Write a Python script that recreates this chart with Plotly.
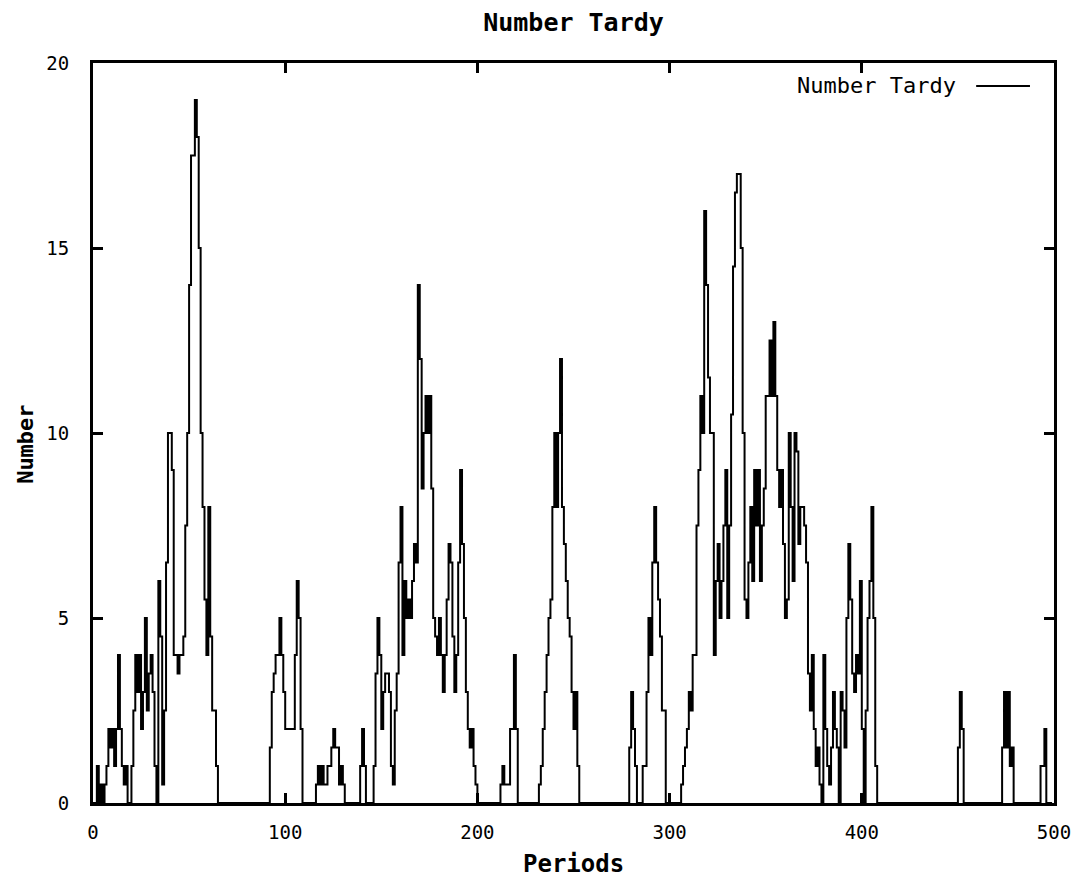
import plotly.graph_objects as go

# Number tardy per period (periods 0..499), in blocks of 50
tardy_000 = [0, 0, 1, 0, 0.5, 0, 0.5, 1, 2, 1.5,
             2, 1, 2, 4, 2, 1, 0.5, 1, 0, 0,
             1, 2.5, 4, 3, 4, 2, 3, 5, 2.5, 3.5,
             4, 3, 1, 0, 6, 4.5, 0.5, 2.5, 6.5, 10,
             10, 9, 4, 4, 3.5, 4, 4, 4.5, 7.5, 10]
tardy_050 = [14, 17.5, 17.5, 19, 18, 15, 10, 8, 5.5, 4,
             8, 4.5, 2.5, 2.5, 1, 0, 0, 0, 0, 0,
             0, 0, 0, 0, 0, 0, 0, 0, 0, 0,
             0, 0, 0, 0, 0, 0, 0, 0, 0, 0,
             0, 0, 1.5, 3, 3.5, 4, 4, 5, 4, 3]
tardy_100 = [2, 2, 2, 2, 2, 4, 6, 5, 2, 0,
             0, 0, 0, 0, 0, 0, 0.5, 1, 0.5, 1,
             0.5, 0.5, 1, 1, 1.5, 2, 1.5, 1.5, 0.5, 1,
             0.5, 0, 0, 0, 0, 0, 0, 0, 0, 1,
             2, 1, 0, 0, 0, 0, 1, 3.5, 5, 4]
tardy_150 = [2, 3, 3.5, 3.5, 3, 1, 0.5, 2.5, 3.5, 6.5,
             8, 4, 6, 5, 5.5, 5, 6, 7, 6.5, 14,
             12, 8.5, 10, 11, 10, 11, 8.5, 5, 4.5, 4,
             5, 4, 3, 4, 5.5, 7, 6.5, 4.5, 3, 4,
             6.5, 9, 7, 5, 3, 2, 1.5, 2, 1, 0.5]
tardy_200 = [0, 0, 0, 0, 0, 0, 0, 0, 0, 0,
             0, 0, 0.5, 1, 0.5, 0.5, 0.5, 2, 2, 4,
             2, 0, 0, 0, 0, 0, 0, 0, 0, 0,
             0, 0, 0.5, 1, 2, 3, 4, 5, 5.5, 8,
             10, 8, 10, 12, 8, 7, 6, 5, 4.5, 3]
tardy_250 = [2, 3, 1, 0, 0, 0, 0, 0, 0, 0,
             0, 0, 0, 0, 0, 0, 0, 0, 0, 0,
             0, 0, 0, 0, 0, 0, 0, 0, 0, 1.5,
             3, 2, 1, 0, 0, 0, 1, 1, 3, 5,
             4, 6.5, 8, 6.5, 5.5, 4.5, 2.5, 2.5, 0, 0]
tardy_300 = [0, 0, 0, 0, 0, 0, 0.5, 1, 1.5, 2,
             3, 2.5, 4, 4, 7.5, 9, 11, 10, 16, 14,
             11.5, 10, 10, 4, 6, 7, 5, 6, 7.5, 9,
             5, 7.5, 10.5, 14.5, 16.5, 17, 17, 15, 10, 5.5,
             5, 6.5, 8, 6, 9, 7.5, 9, 6, 7.5, 8.5]
tardy_350 = [11, 11, 12.5, 11, 13, 11, 9, 8, 9, 7,
             5, 5.5, 10, 8, 6, 10, 9.5, 7, 8, 8,
             7.5, 6.5, 3.5, 2.5, 4, 2, 1, 1.5, 0.5, 0,
             4, 2, 1, 0.5, 1.5, 3, 2, 1.5, 0, 3,
             2.5, 1.5, 5, 7, 5.5, 3.5, 3, 4, 3.5, 6]
tardy_400 = [2, 0, 2.5, 5, 6, 8, 5, 1, 0, 0,
             0, 0, 0, 0, 0, 0, 0, 0, 0, 0,
             0, 0, 0, 0, 0, 0, 0, 0, 0, 0,
             0, 0, 0, 0, 0, 0, 0, 0, 0, 0,
             0, 0, 0, 0, 0, 0, 0, 0, 0, 0]
tardy_450 = [1.5, 3, 2, 0, 0, 0, 0, 0, 0, 0,
             0, 0, 0, 0, 0, 0, 0, 0, 0, 0,
             0, 0, 0, 1.5, 3, 1.5, 3, 1, 1.5, 0,
             0, 0, 0, 0, 0, 0, 0, 0, 0, 0,
             0, 0, 0, 1, 1, 2, 0, 0, 0, 0]

number_tardy = (tardy_000 + tardy_050 + tardy_100 + tardy_150 + tardy_200 +
                tardy_250 + tardy_300 + tardy_350 + tardy_400 + tardy_450)
periods = list(range(len(number_tardy)))

x_ticks = [0, 100, 200, 300, 400, 500]
y_ticks = [0, 5, 10, 15, 20]

MONO = "DejaVu Sans Mono, Liberation Mono, monospace"

fig = go.Figure()
fig.add_trace(go.Scatter(
    x=periods, y=number_tardy, mode="lines", name="Number Tardy",
    line=dict(color="black", width=2, shape="hv"), showlegend=False,
))

axis_common = dict(
    showline=True, linecolor="black", linewidth=3, mirror="ticks",
    ticks="inside", ticklen=10, tickwidth=3, tickcolor="black",
    showgrid=False, zeroline=False,
    tickfont=dict(family=MONO, size=19, color="black"),
)
fig.update_xaxes(range=[0, 500], tickvals=x_ticks, ticklabelstandoff=10, **axis_common)
fig.update_yaxes(range=[0, 20], tickvals=y_ticks, ticklabelstandoff=17, **axis_common)

fig.update_layout(
    width=1076, height=873,
    margin=dict(l=85, r=30, t=55, b=78),
    paper_bgcolor="white", plot_bgcolor="white",
    title=dict(text="<b>Number Tardy</b>", x=0.5, xref="paper", y=0.984, yref="container",
               yanchor="middle", font=dict(family=MONO, size=25, color="black")),
    annotations=[
        dict(text="<b>Periods</b>", x=0.5, y=-0.082, xref="paper", yref="paper",
             xanchor="center", yanchor="middle",
             showarrow=False, font=dict(family=MONO, size=24, color="black")),
        dict(text="<b>Number</b>", x=-0.071, y=0.485, xref="paper", yref="paper",
             xanchor="center", yanchor="middle",
             textangle=-90, showarrow=False, font=dict(family=MONO, size=22, color="black")),
        dict(text="Number Tardy", x=0.900, y=0.969, xref="paper", yref="paper",
             xanchor="right", yanchor="middle", showarrow=False,
             font=dict(family=MONO, size=22, color="black")),
    ],
    shapes=[dict(type="line", xref="paper", yref="paper", x0=0.919, x1=0.975,
                 y0=0.969, y1=0.969, line=dict(color="black", width=2))],
)

fig.write_html("out.html")
